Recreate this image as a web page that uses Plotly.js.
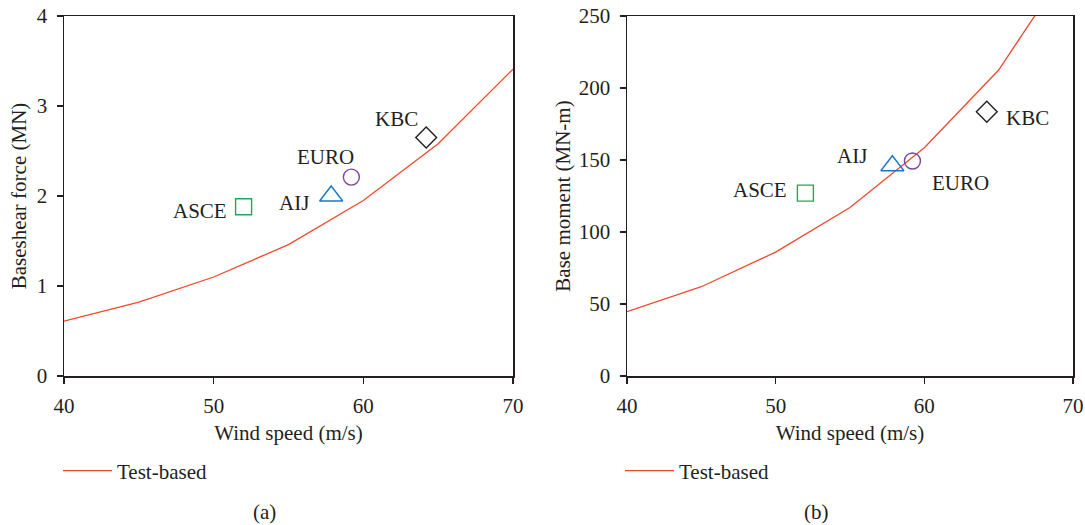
<!DOCTYPE html>
<html><head><meta charset="utf-8">
<script src="https://cdn.plot.ly/plotly-3.0.1.min.js"></script>
<style>html,body{margin:0;padding:0;background:#fff}</style>
</head><body><div id="chart" style="width:1085px;height:525px"></div>
<script>
// ---- data ----
const windSpeed = [40, 45, 50, 55, 60, 65, 70];
const shearTest = [0.61, 0.82, 1.10, 1.46, 1.95, 2.58, 3.41];
const momentTest = [44.7, 62, 86, 117, 158.5, 212.5, 290];
const codeNames = ['ASCE', 'AIJ', 'EURO', 'KBC'];
const codeSpeed = [52, 57.85, 59.2, 64.2];
const codeShear = [1.88, 2.0, 2.21, 2.65];
const codeMoment = [127, 146, 149.3, 183.5];
const xTicks = [40, 50, 60, 70];
const shearTicks = [0, 1, 2, 3, 4];
const momentTicks = [0, 50, 100, 150, 200, 250];

// ---- styles ----
const FONT = 'Liberation Serif, Times New Roman, serif';
const FS = 21;
const INK = '#231f20';
const RED = '#ef4a2c';
const symStyle = {
  ASCE: {symbol: 'square-open', color: '#1fa85a', size: 16},
  AIJ: {symbol: 'triangle-up-open', color: '#1a78c2', size: 20},
  EURO: {symbol: 'circle-open', color: '#7a47a8', size: 16},
  KBC: {symbol: 'diamond-open', color: '#231f20', size: 16}
};
const labelA = {
  ASCE: {xanchor: 'right', xshift: -15, yshift: -4},
  AIJ: {xanchor: 'right', xshift: -20, yshift: -7},
  EURO: {xanchor: 'center', xshift: -26, yshift: 20},
  KBC: {xanchor: 'right', xshift: -6, yshift: 18}
};
const labelB = {
  ASCE: {xanchor: 'right', xshift: -16, yshift: 3},
  AIJ: {xanchor: 'right', xshift: -23, yshift: 10},
  EURO: {xanchor: 'left', xshift: 18, yshift: -22},
  KBC: {xanchor: 'left', xshift: 17, yshift: -6}
};

const traces = [];
traces.push({x: windSpeed, y: shearTest, type: 'scatter', mode: 'lines', name: 'Test-based',
  line: {color: RED, width: 1.3}, xaxis: 'x', yaxis: 'y', legend: 'legend'});
traces.push({x: windSpeed, y: momentTest, type: 'scatter', mode: 'lines', name: 'Test-based',
  line: {color: RED, width: 1.3}, xaxis: 'x2', yaxis: 'y2', legend: 'legend2'});
codeNames.forEach((n, i) => {
  const s = symStyle[n];
  traces.push({x: [codeSpeed[i]], y: [codeShear[i]], type: 'scatter', mode: 'markers', name: n,
    showlegend: false, xaxis: 'x', yaxis: 'y', cliponaxis: false,
    marker: {symbol: s.symbol, size: s.size, color: s.color, line: {color: s.color, width: 1.4}}});
  traces.push({x: [codeSpeed[i]], y: [codeMoment[i]], type: 'scatter', mode: 'markers', name: n,
    showlegend: false, xaxis: 'x2', yaxis: 'y2', cliponaxis: false,
    marker: {symbol: s.symbol, size: s.size, color: s.color, line: {color: s.color, width: 1.4}}});
});

const annotations = [];
codeNames.forEach((n, i) => {
  const a = labelA[n], b = labelB[n];
  annotations.push({x: codeSpeed[i], y: codeShear[i], xref: 'x', yref: 'y', text: n, showarrow: false,
    xanchor: a.xanchor, yanchor: 'middle', xshift: a.xshift, yshift: a.yshift,
    font: {family: FONT, size: FS, color: INK}});
  annotations.push({x: codeSpeed[i], y: codeMoment[i], xref: 'x2', yref: 'y2', text: n, showarrow: false,
    xanchor: b.xanchor, yanchor: 'middle', xshift: b.xshift, yshift: b.yshift,
    font: {family: FONT, size: FS, color: INK}});
});
annotations.push({x: 264 / 1085, y: 1 - 512 / 525, xref: 'paper', yref: 'paper', text: '(a)', showarrow: false,
  xanchor: 'center', yanchor: 'middle', font: {family: FONT, size: FS, color: INK}});
annotations.push({x: 816 / 1085, y: 1 - 512 / 525, xref: 'paper', yref: 'paper', text: '(b)', showarrow: false,
  xanchor: 'center', yanchor: 'middle', font: {family: FONT, size: FS, color: INK}});

const axBase = {
  showline: true, mirror: true, linecolor: INK, linewidth: 1.5,
  ticks: 'outside', ticklen: 6, tickwidth: 1.3, tickcolor: INK,
  showgrid: false, zeroline: false, automargin: false,
  tickfont: {family: FONT, size: FS, color: INK}
};
const yDom = [1 - 376 / 525, 1 - 16 / 525];
const layout = {
  width: 1085, height: 525,
  margin: {l: 0, r: 0, t: 0, b: 0},
  paper_bgcolor: '#fff', plot_bgcolor: '#fff',
  xaxis: Object.assign({}, axBase, {domain: [64 / 1085, 513 / 1085], range: [40, 70], tickvals: xTicks,
    ticklabelstandoff: 4, anchor: 'y',
    title: {text: 'Wind speed (m/s)', font: {family: FONT, size: FS, color: INK}, standoff: 8}}),
  yaxis: Object.assign({}, axBase, {domain: yDom, range: [0, 4], tickvals: shearTicks, anchor: 'x',
    ticklabelstandoff: 5,
    title: {text: 'Baseshear force (MN)', font: {family: FONT, size: FS, color: INK}, standoff: 4}}),
  xaxis2: Object.assign({}, axBase, {domain: [627 / 1085, 1073 / 1085], range: [40, 70], tickvals: xTicks,
    ticklabelstandoff: 4, anchor: 'y2',
    title: {text: 'Wind speed (m/s)', font: {family: FONT, size: FS, color: INK}, standoff: 8}}),
  yaxis2: Object.assign({}, axBase, {domain: yDom, range: [0, 250], tickvals: momentTicks, anchor: 'x2',
    ticklabelstandoff: 5,
    title: {text: 'Base moment (MN-m)', font: {family: FONT, size: FS, color: INK}, standoff: 2}}),
  legend: {x: 58 / 1085, y: 1 - 471 / 525, xanchor: 'left', yanchor: 'middle', bgcolor: 'rgba(0,0,0,0)',
    itemwidth: 49, font: {family: FONT, size: FS, color: INK}},
  legend2: {x: 620 / 1085, y: 1 - 471 / 525, xanchor: 'left', yanchor: 'middle', bgcolor: 'rgba(0,0,0,0)',
    itemwidth: 49, font: {family: FONT, size: FS, color: INK}},
  annotations: annotations,
  showlegend: true
};
Plotly.newPlot('chart', traces, layout, {displayModeBar: false, staticPlot: true});
</script>
</body></html>
